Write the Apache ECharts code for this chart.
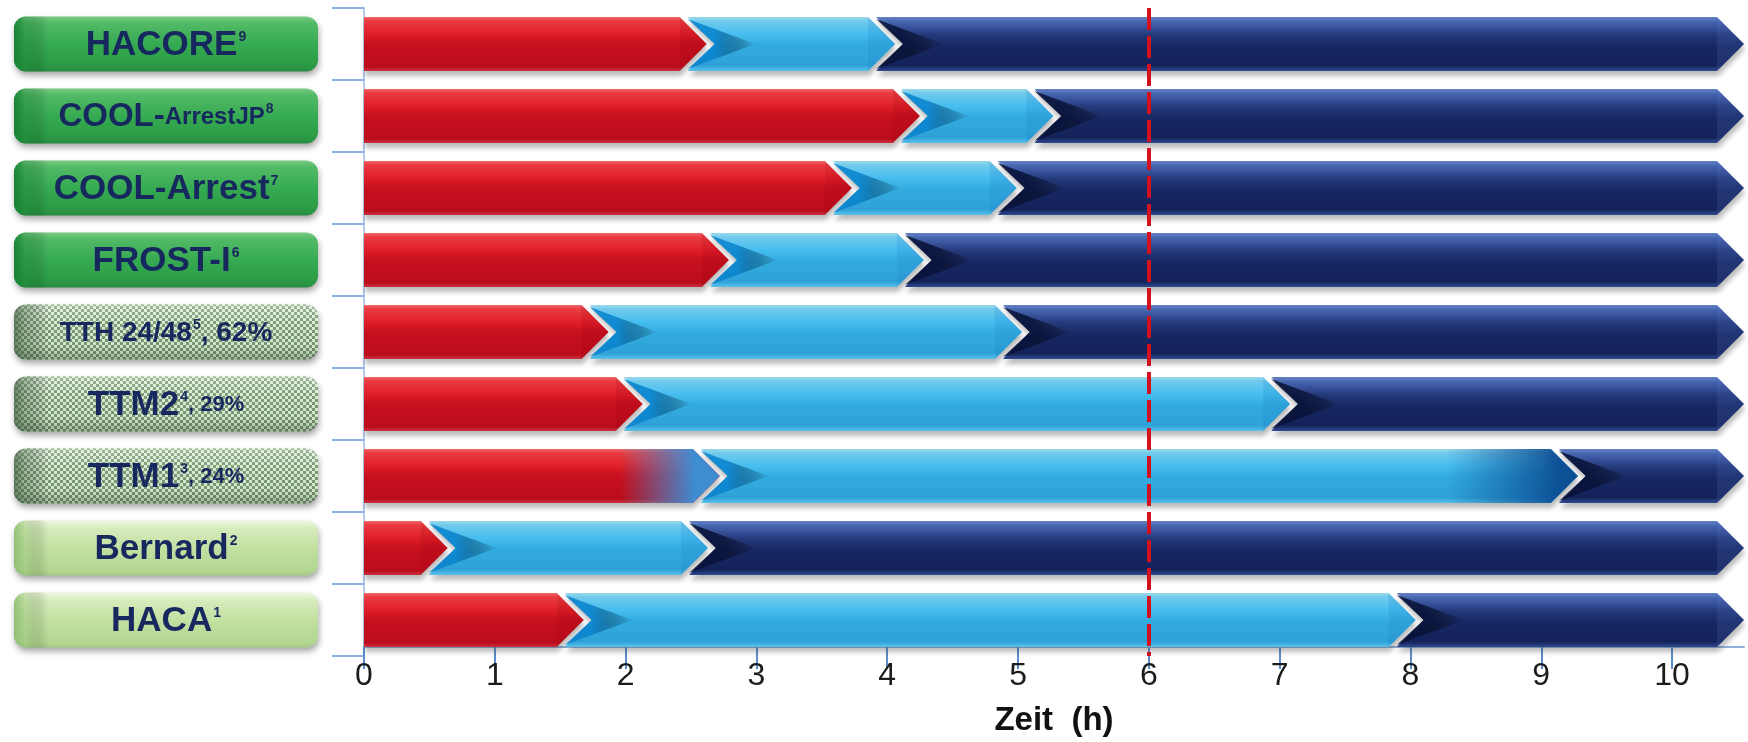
<!DOCTYPE html>
<html>
<head>
<meta charset="utf-8">
<script src="https://cdn.jsdelivr.net/npm/echarts@6/dist/echarts.min.js"></script>
<style>
  html, body { margin: 0; padding: 0; background: #ffffff; }
  #chart { width: 1748px; height: 742px; }
</style>
</head>
<body>
<div id="chart"></div>
<script>
// Studies, top to bottom
const studies = ['HACORE', 'COOL-ArrestJP', 'COOL-Arrest', 'FROST-I', 'TTH 24/48', 'TTM2', 'TTM1', 'Bernard', 'HACA'];
// Button captions (rich text: main name, reference superscript, survival suffix)
const buttonLabels = [
  '{m|HACORE}{sup|9}',
  '{c|COOL-}{n|ArrestJP}{sup|8}',
  '{m|COOL-Arrest}{sup|7}',
  '{m|FROST-I}{sup|6}',
  '{t|TTH 24/48}{sup|5}{t|, 62%}',
  '{m|TTM2}{sup|4}{s|, 29%}',
  '{m|TTM1}{sup|3}{s|, 24%}',
  '{m|Bernard}{sup|2}',
  '{m|HACA}{sup|1}'
];
const buttonKinds = ['green', 'green', 'green', 'green', 'hatched', 'hatched', 'hatched', 'light', 'light'];

// Phase boundaries in hours (end of each arrow segment)
const phase1End = [2.62, 4.25, 3.73, 2.79, 1.87, 2.13, 2.72, 0.64, 1.68];
const phase2End = [4.06, 5.27, 4.99, 4.28, 5.03, 7.08, 9.28, 2.63, 8.04];
const phase3End = [10.55, 10.55, 10.55, 10.55, 10.55, 10.55, 10.55, 10.55, 10.55];
// Rows whose segment transitions are drawn as soft colour blends
const blendedRows = [false, false, false, false, false, false, true, false, false];

const hourTicks = [0, 1, 2, 3, 4, 5, 6, 7, 8, 9, 10];
const markerHour = 6;
const xMax = 10.55;

const FONT = '"Liberation Sans", Arial, Helvetica, sans-serif';
const NAVY = '#16285e';

function grad(x2, y2, stops) {
  return new echarts.graphic.LinearGradient(0, 0, x2, y2,
    stops.map(function (s) { return { offset: s[0], color: s[1] }; }));
}

// Segment fills: red, light blue, dark blue
const SEGMENT_STOPS = [
  [[0, '#ee6a6c'], [0.07, '#ea3d43'], [0.3, '#e2212a'], [0.48, '#c9111f'], [0.92, '#bb0c1c'], [1, '#c8323a']],
  [[0, '#9ad8ec'], [0.08, '#70caec'], [0.3, '#48bff0'], [0.5, '#33ace0'], [0.9, '#2ea1d8'], [1, '#5cc2e8']],
  [[0, '#6482c4'], [0.1, '#4463ae'], [0.33, '#24397a'], [0.55, '#172761'], [0.9, '#14225a'], [1, '#2f4a92']]
];
const TIP_SHADE = ['rgba(150,0,15,0.15)', 'rgba(20,120,200,0.18)', 'rgba(80,110,190,0.2)'];
const DART_SHADE = [null, 'rgba(8,130,205,0.85)', 'rgba(8,18,55,0.85)'];
const BLEND_SHADE = [
  [[0, 'rgba(62,140,210,0)'], [0.72, 'rgba(62,140,210,0)'], [0.93, 'rgba(62,140,210,1)'], [1, 'rgba(62,140,210,1)']],
  [[0, 'rgba(10,80,150,0)'], [0.85, 'rgba(10,80,150,0)'], [0.98, 'rgba(10,75,145,0.95)'], [1, 'rgba(10,75,145,0.95)']],
  null
];

function renderPhase(phase) {
  return function (params, api) {
    const row = api.value(0);
    const x0 = api.coord([api.value(1), row])[0];
    const pEnd = api.coord([api.value(2), row]);
    const x1 = pEnd[0], yc = pEnd[1];
    const h = api.size([0, 1])[1] * 0.75;
    const top = yc - h / 2, bot = yc + h / 2;
    const d = h / 2;
    const gap = 8;
    const xn = x0 + gap;
    const pts = phase === 0
      ? [[x0, top], [x1 - d, top], [x1, yc], [x1 - d, bot], [x0, bot]]
      : [[xn - d, top], [x1 - d, top], [x1, yc], [x1 - d, bot], [xn - d, bot], [xn, yc]];
    const children = [{
      type: 'polygon',
      shape: { points: pts },
      style: {
        fill: grad(0, 1, SEGMENT_STOPS[phase]),
        shadowBlur: 5, shadowOffsetX: 1, shadowOffsetY: 5,
        shadowColor: 'rgba(60,60,60,0.35)'
      }
    }, {
      type: 'polygon',
      shape: { points: [[x1 - d, top], [x1, yc], [x1 - d, bot]] },
      style: { fill: TIP_SHADE[phase] }
    }];
    if (phase > 0) {
      children.push({
        type: 'polygon',
        shape: { points: [[xn - d, top + 2], [xn + 1.5 * d, yc], [xn - d, bot - 2], [xn, yc]] },
        style: { fill: grad(1, 0, [[0, DART_SHADE[phase]], [0.4, DART_SHADE[phase]], [1, 'rgba(0,0,0,0)']]) }
      });
    }
    if (blendedRows[row] && BLEND_SHADE[phase]) {
      children.push({
        type: 'polygon',
        shape: { points: pts },
        style: { fill: grad(1, 0, BLEND_SHADE[phase]) }
      });
    }
    return { type: 'group', children: children };
  };
}

// Checkered texture for the TTH / TTM buttons
function makeChecker() {
  const c = document.createElement('canvas');
  c.width = 6; c.height = 6;
  const ctx = c.getContext('2d');
  ctx.fillStyle = '#dcead3';
  ctx.fillRect(0, 0, 6, 6);
  ctx.fillStyle = '#789a74';
  ctx.fillRect(0, 0, 3, 3);
  ctx.fillRect(3, 3, 3, 3);
  return c;
}
const checker = makeChecker();

const BUTTONS = {
  green: {
    fill: grad(0, 1, [[0, '#7ccb86'], [0.12, '#52ba66'], [0.5, '#36aa52'], [0.85, '#2b9e46'], [1, '#2a8d42']]),
    edge: 'rgba(20,125,50,0.9)'
  },
  hatched: {
    fill: { image: checker, repeat: 'repeat' },
    overlay: grad(0, 1, [[0, 'rgba(255,255,255,0.3)'], [0.25, 'rgba(255,255,255,0.08)'], [0.75, 'rgba(0,40,0,0.03)'], [1, 'rgba(20,50,20,0.3)']]),
    edge: 'rgba(60,90,60,0.7)'
  },
  light: {
    fill: grad(0, 1, [[0, '#eef7de'], [0.15, '#d6ebbb'], [0.55, '#c0df9f'], [0.9, '#b3d793'], [1, '#a6cb86']]),
    edge: 'rgba(140,190,110,0.9)'
  }
};

const RICH = {
  m: { font: 'bold 35px ' + FONT, fill: NAVY },
  c: { font: 'bold 33px ' + FONT, fill: NAVY },
  n: { font: 'bold 24px ' + FONT, fill: NAVY },
  t: { font: 'bold 28px ' + FONT, fill: NAVY },
  s: { font: 'bold 22px ' + FONT, fill: NAVY },
  sup: { font: 'bold 14px ' + FONT, fill: NAVY, padding: [0, 0, 16, 1] }
};

function renderButton(params, api) {
  const row = api.value(1);
  const p = api.coord([0, row]);
  const w = 304, h = 55;
  const x = p[0] - 350, y = p[1] - h / 2;
  const spec = BUTTONS[buttonKinds[row]];
  const children = [{
    type: 'rect',
    shape: { x: x, y: y, width: w, height: h, r: 12 },
    style: { fill: spec.fill, shadowBlur: 6, shadowOffsetY: 4, shadowOffsetX: 1, shadowColor: 'rgba(0,0,0,0.35)' }
  }];
  if (spec.overlay) {
    children.push({ type: 'rect', shape: { x: x, y: y, width: w, height: h, r: 12 }, style: { fill: spec.overlay } });
  }
  children.push({
    type: 'rect',
    shape: { x: x, y: y, width: 34, height: h, r: [12, 0, 0, 12] },
    style: { fill: grad(1, 0, [[0, spec.edge], [0.35, spec.edge.replace(/[\d.]+\)$/, '0.35)')], [1, 'rgba(0,0,0,0)']]) }
  });
  children.push({
    type: 'text',
    style: {
      text: buttonLabels[row],
      x: x + w / 2, y: p[1] + 1,
      align: 'center', verticalAlign: 'middle',
      font: 'bold 35px ' + FONT, fill: NAVY,
      rich: RICH
    }
  });
  return { type: 'group', children: children };
}

function phaseData(starts, ends) {
  return studies.map(function (s, i) { return [s, starts ? starts[i] : 0, ends[i]]; });
}

const chart = echarts.init(document.getElementById('chart'), null, { renderer: 'canvas' });
chart.setOption({
  animation: false,
  backgroundColor: '#ffffff',
  grid: { left: 364, right: 4, top: 8, bottom: 86, containLabel: false },
  xAxis: {
    type: 'value',
    min: 0, max: xMax, interval: 1,
    offset: -9,
    name: 'Zeit  (h)',
    nameLocation: 'middle',
    nameGap: 57,
    nameTextStyle: { fontFamily: FONT, fontWeight: 'bold', fontSize: 33, color: '#111111' },
    axisLine: { show: true, lineStyle: { color: '#8fb0dc', width: 2 } },
    axisTick: { show: true, customValues: hourTicks, length: 22, lineStyle: { color: '#5b8ccc', width: 2 } },
    axisLabel: { customValues: hourTicks, fontFamily: FONT, fontSize: 32, color: '#1c1c1c', margin: 13 },
    splitLine: { show: false }
  },
  yAxis: {
    type: 'category',
    inverse: true,
    data: studies,
    axisLine: { show: true, lineStyle: { color: '#b3cbea', width: 2 } },
    axisTick: { show: true, length: 32, lineStyle: { color: '#8db0dc', width: 2 } },
    axisLabel: { show: false },
    splitLine: { show: false }
  },
  series: [
    {
      type: 'custom', name: 'buttons', clip: false,
      renderItem: renderButton,
      encode: { x: 0, y: 1 },
      data: studies.map(function (s) { return [0, s]; }),
      silent: true
    },
    {
      type: 'custom', name: 'Phase 1', z: 3,
      renderItem: renderPhase(0),
      encode: { y: 0, x: [1, 2] },
      data: phaseData(null, phase1End)
    },
    {
      type: 'custom', name: 'Phase 2', z: 3,
      renderItem: renderPhase(1),
      encode: { y: 0, x: [1, 2] },
      data: phaseData(phase1End, phase2End)
    },
    {
      type: 'custom', name: 'Phase 3', z: 3,
      renderItem: renderPhase(2),
      encode: { y: 0, x: [1, 2] },
      data: phaseData(phase2End, phase3End),
      markLine: {
        silent: true,
        symbol: 'none',
        z: 10,
        label: { show: false },
        lineStyle: { color: '#d3101f', width: 4, type: [22, 6] },
        data: [{ xAxis: markerHour }]
      }
    }
  ]
});
</script>
</body>
</html>
